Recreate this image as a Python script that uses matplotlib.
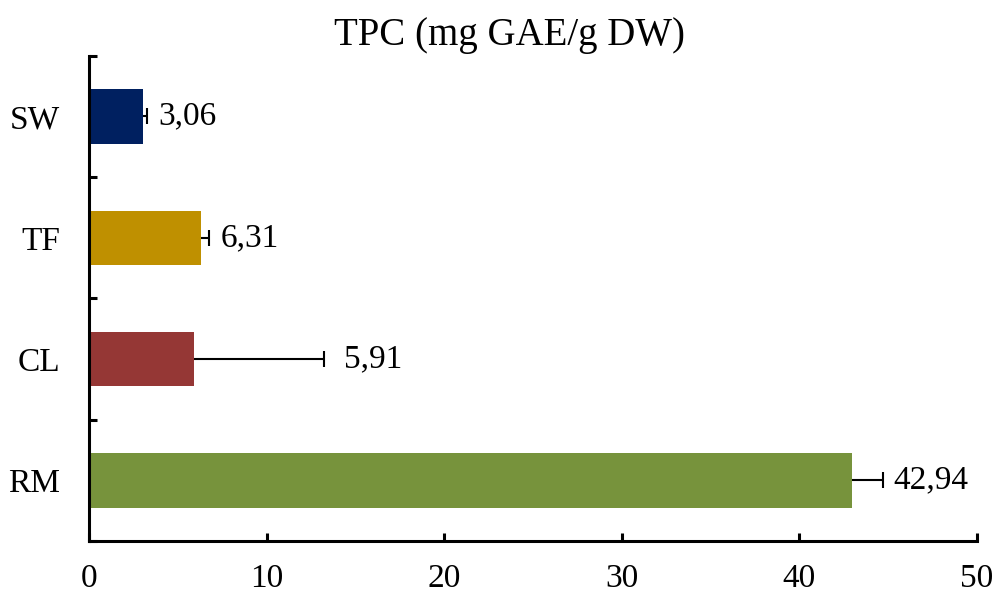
import numpy as np
import matplotlib.pyplot as plt

# data (bottom to top)
categories = ['RM', 'CL', 'TF', 'SW']
values = [42.94, 5.91, 6.31, 3.06]
errors = [1.75, 7.35, 0.45, 0.22]
labels = ['42,94', '5,91', '6,31', '3,06']
colors = ['#77933C', '#953735', '#BF9000', '#002060']

plt.rcParams['font.family'] = ['Liberation Serif', 'DejaVu Serif']

fig = plt.figure(figsize=(10, 5.94), dpi=100)
ax = fig.add_axes([0.089, 0.089, 0.888, 0.817])

y = np.arange(len(categories))
ax.barh(y, values, height=0.45, color=colors, zorder=2)

# one-sided error bars: line from bar end plus a cap at the right only
ends = np.array(values) + np.array(errors)
ax.hlines(y, values, ends, color='black', linewidth=1.5, zorder=3)
ax.plot(ends, y, linestyle='none', marker='|', markersize=12,
        markeredgewidth=1.5, color='black', zorder=3)

# value labels (the CL one sits a bit further out in the original)
offsets = [8, 14, 8, 8]
for yi, end, lab, off in zip(y, ends, labels, offsets):
    ax.annotate(lab, xy=(end, yi), xytext=(off, 0), textcoords='offset points',
                ha='left', va='center', fontsize=24)

ax.set_xlim(0, 50)
ax.set_ylim(-0.5, len(categories) - 0.5)
ax.set_xticks(np.arange(0, 51, 10))
ax.set_yticks(y)
ax.set_yticklabels(categories)
ax.set_yticks(np.arange(-0.5, len(categories), 1.0), minor=True)

for side in ['top', 'right']:
    ax.spines[side].set_visible(False)
for side in ['left', 'bottom']:
    ax.spines[side].set_linewidth(2.2)

ax.tick_params(axis='y', which='major', length=0, pad=21, labelsize=24)
ax.tick_params(axis='y', which='minor', direction='in', length=6, width=2.2)
ax.tick_params(axis='x', which='major', direction='in', length=6, width=2.2,
               pad=16, labelsize=24)

ax.set_title('TPC (mg GAE/g DW)', fontsize=28, pad=8, x=0.473)

fig.savefig('out.png', dpi=100)
